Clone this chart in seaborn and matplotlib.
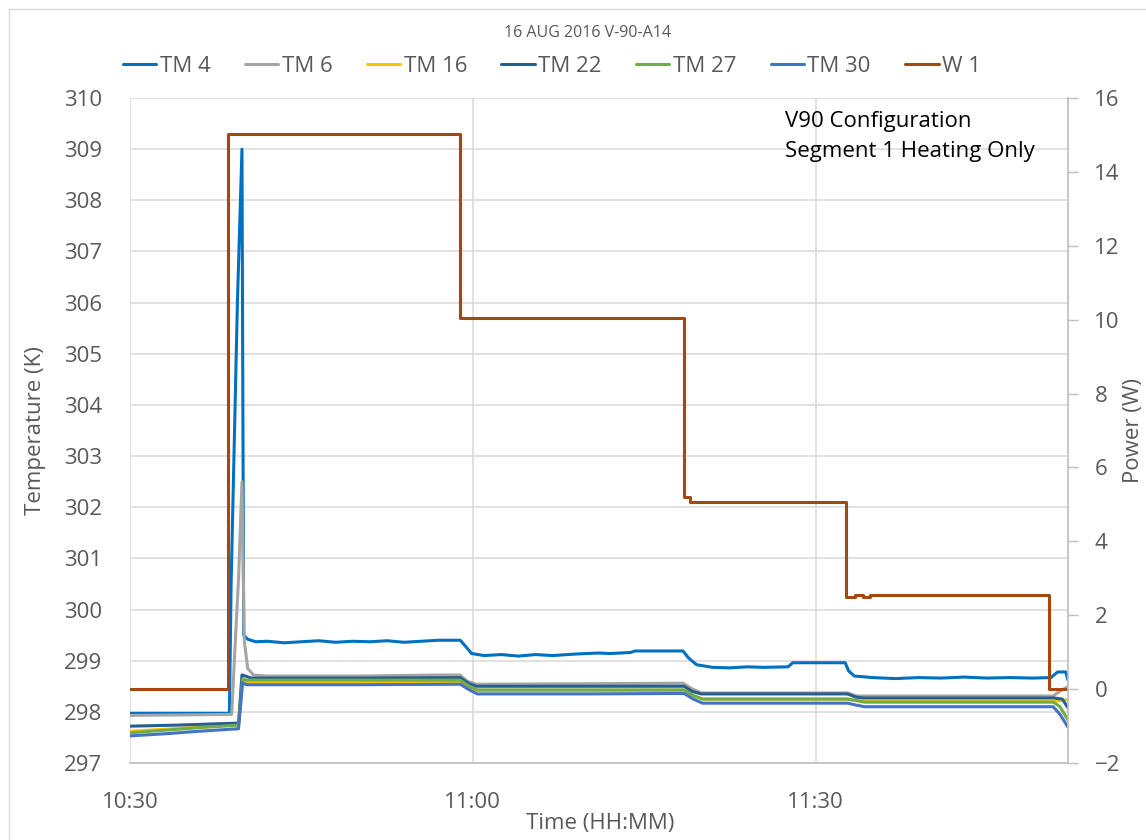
import pandas as pd
import matplotlib.pyplot as plt
import seaborn as sns
from matplotlib.patches import Rectangle

sns.set_theme(style='white')
plt.rcParams['font.family'] = ['Open Sans', 'DejaVu Sans']

# minutes after 10:30
tick_pos = [0, 30, 60]
tick_labels = ['10:30', '11:00', '11:30']

tm4_t = [0, 8.7, 8.85, 9.05, 9.4, 9.8, 9.95, 10.3, 11, 12, 13.5, 15, 16.5, 18, 19.5, 21,
         22.5, 24, 25.5, 27, 28.9, 29.3, 29.9, 31, 32.5, 34, 35.5, 37, 39, 41, 42, 43.8,
         44.2, 46, 48.4, 48.9, 49.6, 51.0, 52.5, 54, 55.5, 57.6, 58.0, 60, 62.6, 62.9,
         63.4, 65, 67, 69, 71, 73, 75, 77, 79, 80.6, 81.2, 81.9, 82.1]
tm4_v = [297.97, 297.97, 300.5, 302.5, 306.0, 309.0, 299.5, 299.42, 299.37, 299.38,
         299.35, 299.37, 299.39, 299.36, 299.38, 299.37, 299.39, 299.36, 299.38, 299.40,
         299.40, 299.30, 299.14, 299.10, 299.12, 299.09, 299.12, 299.10, 299.13, 299.15,
         299.14, 299.16, 299.19, 299.19, 299.19, 299.05, 298.92, 298.87, 298.86, 298.88,
         298.87, 298.88, 298.96, 298.96, 298.96, 298.80, 298.70, 298.67, 298.65, 298.67,
         298.66, 298.68, 298.66, 298.67, 298.66, 298.67, 298.78, 298.78, 298.62]

tm6_t = [0, 8.9, 9.2, 9.5, 9.8, 10.0, 10.3, 10.8, 12, 20, 27, 28.9, 29.5, 30.3, 40, 48.4,
         49.2, 50.0, 55, 62.8, 63.6, 70, 80.8, 81.5, 82.1]
tm6_v = [297.93, 297.95, 299.3, 300.6, 302.5, 299.4, 298.85, 298.72, 298.70, 298.70, 298.72,
         298.72, 298.60, 298.54, 298.55, 298.56, 298.45, 298.37, 298.37, 298.37, 298.31,
         298.31, 298.31, 298.42, 298.49]

tm22_t = [0, 4, 9.5, 9.8, 10.1, 10.6, 20, 28.9, 29.6, 30.3, 40, 48.5, 49.2, 50.0, 56, 62.8,
          63.5, 64.2, 72, 80.9, 81.6, 82.1]
tm22_v = [297.72, 297.74, 297.78, 298.72, 298.70, 298.66, 298.66, 298.67, 298.56, 298.50,
          298.50, 298.50, 298.40, 298.35, 298.35, 298.35, 298.29, 298.27, 298.27, 298.27,
          298.25, 298.08]

low_t = [0, 3, 6, 9.5, 9.85, 10.2, 20, 28.9, 29.7, 30.4, 40, 48.5, 49.3, 50.1, 56, 62.8,
         63.6, 64.3, 72, 80.8, 81.4, 82.1]
tm16_v = [297.62, 297.66, 297.70, 297.75, 298.60, 298.57, 298.57, 298.58, 298.48, 298.41,
          298.41, 298.42, 298.32, 298.25, 298.25, 298.25, 298.22, 298.20, 298.20, 298.20,
          298.22, 298.24]
tm27_v = [297.59, 297.64, 297.69, 297.74, 298.64, 298.62, 298.62, 298.62, 298.50, 298.43,
          298.43, 298.43, 298.32, 298.25, 298.25, 298.25, 298.22, 298.19, 298.19, 298.19,
          298.10, 297.84]
tm30_v = [297.53, 297.57, 297.62, 297.67, 298.57, 298.53, 298.53, 298.54, 298.43, 298.35,
          298.35, 298.36, 298.25, 298.17, 298.17, 298.17, 298.13, 298.10, 298.10, 298.10,
          297.95, 297.70]

w1_t = [0, 8.6, 8.6, 28.9, 28.9, 48.5, 48.5, 49.0, 49.0, 62.7, 62.7, 63.5, 63.5, 64.2,
        64.2, 64.8, 64.8, 80.4, 80.4, 82.1]
w1_v = [0, 0, 15.02, 15.02, 10.04, 10.04, 5.2, 5.2, 5.06, 5.06, 2.49, 2.49, 2.56, 2.56,
        2.49, 2.49, 2.55, 2.55, 0, 0]

series = {'TM 4': (tm4_t, tm4_v), 'TM 6': (tm6_t, tm6_v), 'TM 16': (low_t, tm16_v),
          'TM 22': (tm22_t, tm22_v), 'TM 27': (low_t, tm27_v), 'TM 30': (low_t, tm30_v)}
colors = {'TM 4': '#0070C0', 'TM 6': '#A5A5A5', 'TM 16': '#FFC000',
          'TM 22': '#255E91', 'TM 27': '#70AD47', 'TM 30': '#4472C4'}
w_color = '#A5470F'
grey = '#595959'

rows = []
for name, (ts, vs) in series.items():
    for t, v in zip(ts, vs):
        rows.append((name, t, v))
df = pd.DataFrame(rows, columns=['Sensor', 'Time', 'Temperature'])

fig = plt.figure(figsize=(11.46, 8.4), dpi=100)
ax = fig.add_axes([130/1146, 1-763/840, 938/1146, 665/840])
sns.lineplot(data=df, x='Time', y='Temperature', hue='Sensor', palette=colors,
             sort=False, estimator=None, lw=2.2, ax=ax)
ax2 = ax.twinx()
sns.lineplot(x=w1_t, y=w1_v, color=w_color, sort=False, estimator=None, lw=2.2,
             label='W 1', ax=ax2)

ax.set_xlim(0, 82.1)
ax.set_ylim(297, 310)
ax2.set_ylim(-2, 16)
ax.set_yticks(range(297, 311))
ax2.set_yticks(range(-2, 17, 2))
ax.set_xticks(tick_pos)
ax.set_xticklabels(tick_labels)

ax.grid(True, color='#D9D9D9', lw=1.1)
ax2.grid(False)
for sp in ['top', 'left', 'right']:
    ax.spines[sp].set_visible(False)
for sp in ['top', 'left', 'bottom']:
    ax2.spines[sp].set_visible(False)
ax.spines['bottom'].set_color('#BFBFBF')
ax2.spines['right'].set_color('#BFBFBF')

ax.tick_params(axis='y', length=0, pad=20, labelsize=16, labelcolor=grey)
ax.tick_params(axis='x', length=0, pad=21, labelsize=16, labelcolor=grey)
ax2.tick_params(axis='y', length=7, width=1, color='#BFBFBF', pad=12,
                labelsize=16, labelcolor=grey)

ax.set_xlabel('Time (HH:MM)', fontsize=16, color=grey)
ax.set_ylabel('Temperature (K)', fontsize=16, color=grey)
ax2.set_ylabel('Power (W)', fontsize=16, color=grey)
ax.xaxis.set_label_coords(0.501, -0.075)
ax.yaxis.set_label_coords(-0.090, 0.5)
ax2.yaxis.set_label_coords(1.059, 0.5)

ax.text(0.698, 0.981, 'V90 Configuration\nSegment 1 Heating Only', transform=ax.transAxes,
        ha='left', va='top', fontsize=16, color='black', linespacing=1.6)

fig.text(588/1146, 1-33/840, '16 AUG 2016 V-90-A14', ha='center', va='center',
         fontsize=11.5, color=grey)

h1, l1 = ax.get_legend_handles_labels()
h2, l2 = ax2.get_legend_handles_labels()
ax.get_legend().remove()
ax2.get_legend().remove()
fig.legend(h1 + h2, l1 + l2, loc='center', bbox_to_anchor=(552/1146, 1-66/840), ncol=7,
           frameon=False, fontsize=16, labelcolor=grey, handlelength=1.5,
           handletextpad=0.15, columnspacing=1.55)

fig.patches.append(Rectangle((9/1146, -0.5), 2, 1.5 - 9/840, transform=fig.transFigure,
                             fill=False, edgecolor='#D9D9D9', lw=1))

plt.savefig('out.png', dpi=100)
